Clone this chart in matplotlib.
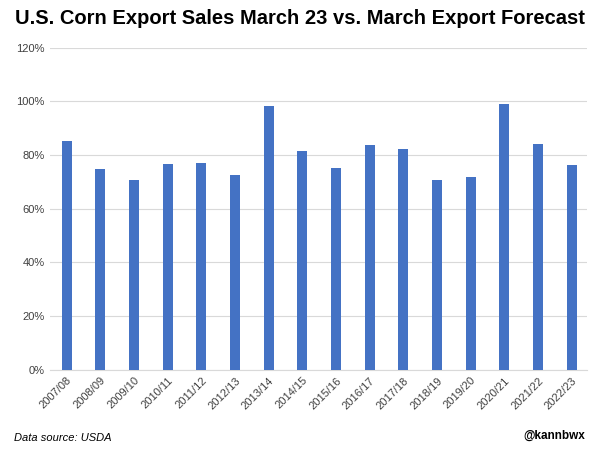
import matplotlib.pyplot as plt
from matplotlib.ticker import PercentFormatter

plt.rcParams['font.family'] = ['Liberation Sans', 'DejaVu Sans']

seasons = ['2007/08', '2008/09', '2009/10', '2010/11', '2011/12', '2012/13',
           '2013/14', '2014/15', '2015/16', '2016/17', '2017/18', '2018/19',
           '2019/20', '2020/21', '2021/22', '2022/23']
share = [85.3, 74.9, 70.8, 76.6, 76.9, 72.7, 98.5, 81.4,
         75.2, 83.9, 82.4, 70.8, 71.7, 99.0, 84.3, 76.4]

fig = plt.figure(figsize=(6, 4.51), dpi=100)
ax = fig.add_axes([0.083, 0.18, 0.895, 0.714])

ax.bar(range(len(seasons)), share, width=0.3, color='#4472C4', zorder=3)

ax.set_ylim(0, 120)
ax.set_yticks(range(0, 121, 20))
ax.yaxis.set_major_formatter(PercentFormatter(decimals=0))
ax.set_xlim(-0.5, len(seasons) - 0.55)
ax.set_xticks(range(len(seasons)))
ax.set_xticklabels(seasons, rotation=45, ha='right', rotation_mode='anchor')

ax.grid(axis='y', color='#d9d9d9', linewidth=0.8, zorder=0)
for s in ['top', 'right', 'left']:
    ax.spines[s].set_visible(False)
ax.spines['bottom'].set_color('#d9d9d9')
ax.tick_params(axis='both', length=0, labelsize=8, labelcolor='#404040')
ax.tick_params(axis='x', pad=4)

fig.text(0.5, 0.958, 'U.S. Corn Export Sales March 23 vs. March Export Forecast',
         ha='center', va='center', fontsize=14.5, fontweight='bold')
fig.text(0.023, 0.028, 'Data source: USDA', ha='left', va='center',
         fontsize=8, style='italic')
fig.text(0.975, 0.033, '@kannbwx', ha='right', va='center',
         fontsize=8.5, fontweight='bold')

fig.savefig('out.png', dpi=100)
